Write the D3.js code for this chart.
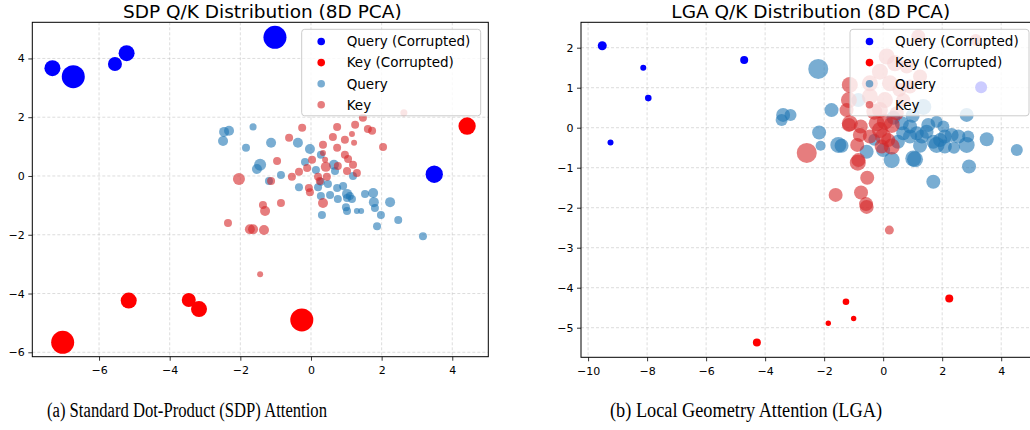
<!DOCTYPE html>
<html><head><meta charset="utf-8">
<script src="https://cdn.jsdelivr.net/npm/d3@7"></script>
<style>body{margin:0;background:#fff;} svg{display:block;}</style>
</head><body>
<svg id="chart" width="1030" height="430"></svg>
<script>
// ---------- DATA: [x, y, magnitude] ----------
const sdpQueryCorrupted = [[-7.32,3.67,2.56],[-6.73,3.38,5.3],[-5.55,3.81,1.96],[-5.22,4.18,2.56],[-1.02,4.72,5.3],[3.49,0.06,3.0]];
const sdpKeyCorrupted = [[-7.03,-5.66,5.3],[-5.16,-4.24,2.56],[-3.46,-4.22,1.96],[-3.17,-4.53,2.56],[-0.26,-4.90,5.3],[4.42,1.70,3.0]];
const sdpQuery = [[-2.46,1.50,1.0],[-2.32,1.54,1.0],[-2.49,1.19,1.0],[-1.64,1.67,0.5],[-1.84,0.96,0.64],[-1.13,1.13,1.0],[-0.37,1.13,1.0],[-1.44,0.38,1.44],[-1.53,0.24,1.0],[-0.85,0.03,0.64],[-1.19,-0.17,0.64],[-0.03,0.92,1.0],[-0.17,0.48,0.64],[0.28,0.72,0.64],[0.14,0.20,0.64],[0.28,-0.20,0.64],[-0.34,-0.38,0.64],[0.48,-0.27,0.64],[0.74,-0.41,0.64],[0.76,-0.78,0.64],[0.65,0.38,1.0],[0.20,-0.38,0.64],[0.28,-0.68,0.64],[0.54,-0.65,0.64],[0.91,-0.34,0.64],[1.02,-0.61,1.0],[1.10,-0.68,0.64],[1.16,-0.78,0.64],[1.02,-0.75,0.64],[1.19,0.00,0.64],[1.53,-0.61,0.64],[1.76,-0.58,1.0],[1.78,-0.89,1.0],[1.81,-1.09,0.64],[2.24,-0.89,1.0],[1.98,-1.33,0.64],[2.47,-1.50,0.64],[1.87,-1.71,0.64],[0.99,-1.06,0.64],[1.02,-1.19,0.64],[1.30,-1.19,0.36],[1.42,-1.19,0.36],[0.31,-1.33,0.64],[3.17,-2.05,0.64],[0.68,0.17,0.64]];
const sdpKey = [[-2.04,-0.10,1.44],[-1.13,-0.17,0.64],[-0.62,1.30,0.64],[-0.25,1.64,0.64],[0.74,1.67,0.64],[1.25,1.74,0.64],[1.47,1.98,0.64],[1.61,1.60,0.64],[1.73,1.54,0.64],[2.04,0.99,0.64],[0.62,1.33,0.64],[0.96,1.23,0.64],[1.16,1.43,0.36],[1.22,1.13,0.36],[0.74,0.96,0.64],[0.34,1.06,0.64],[0.34,0.78,0.36],[0.40,0.55,0.36],[0.96,0.72,0.64],[1.05,0.58,0.64],[1.19,0.38,0.64],[1.30,0.10,0.64],[1.02,0.17,0.64],[-0.96,0.51,0.64],[-0.54,-0.03,0.64],[-0.34,0.14,0.64],[-0.11,0.27,0.64],[0.42,0.31,1.0],[0.20,-0.03,0.64],[0.25,-0.17,0.64],[0.45,-0.03,0.64],[-0.06,-0.41,0.64],[-0.03,-0.55,0.64],[0.34,-0.92,1.0],[-0.85,-0.92,0.64],[-1.36,-0.99,0.64],[-1.30,-1.19,1.0],[-2.35,-1.60,0.64],[-1.73,-1.81,1.0],[-1.64,-1.81,1.0],[-1.33,-1.84,1.0],[-1.44,-3.34,0.36],[2.63,2.15,0.5],[0.03,0.55,0.64],[0.76,0.34,0.64]];

const lgaQueryCorrupted = [[-9.52,2.05,0.81],[-8.13,1.50,0.36],[-7.96,0.74,0.44],[-9.24,-0.37,0.36],[-4.71,1.69,0.64],[3.32,1.01,1.44]];
const lgaKeyCorrupted = [[-4.28,-5.37,0.64],[-1.26,-4.35,0.44],[-1.86,-4.89,0.29],[-1.00,-4.77,0.29],[2.24,-4.27,0.64]];
const lgaQuery = [[-2.20,1.47,4.0],[-3.39,0.32,1.96],[-3.14,0.32,1.44],[-3.44,0.19,1.44],[-1.75,0.44,1.96],[-2.17,-0.12,1.96],[-2.12,-0.45,1.0],[-1.52,-0.43,2.56],[-1.41,-0.45,1.96],[4.53,-0.56,1.44],[2.91,-0.97,1.96],[3.51,-0.29,1.96],[2.83,0.32,1.96],[1.70,-1.35,1.96],[1.02,-0.77,2.56],[2.83,-0.43,2.56],[2.88,-0.22,1.44],[2.55,-0.22,1.96],[2.32,-0.18,1.96],[2.09,-0.22,1.96],[1.93,-0.31,1.96],[1.81,-0.43,2.56],[2.09,-0.47,1.96],[1.70,-0.35,1.96],[1.47,-0.10,1.96],[1.53,0.07,1.96],[1.31,-0.22,1.96],[1.14,-0.14,1.96],[0.91,0.03,1.96],[0.91,-0.22,1.96],[0.68,-0.14,1.96],[0.63,0.11,1.96],[1.81,0.15,1.44],[2.04,0.03,1.44],[1.36,0.52,2.56],[0.29,-0.81,2.56],[0.00,-0.56,1.96],[-0.56,-0.60,1.96],[-0.84,0.69,1.96],[1.08,-0.79,2.56],[0.50,-0.35,1.96],[1.25,-0.45,1.96],[2.40,-0.50,1.44],[0.35,0.25,1.96],[1.00,0.30,1.96],[-0.30,-0.30,1.44]];
const lgaKey = [[-2.59,-0.63,4.0],[-1.61,-1.68,1.96],[-0.86,-0.875,2.56],[-0.54,-1.25,1.96],[-0.75,-1.62,1.96],[-0.58,-1.91,1.96],[-0.56,-1.98,1.96],[0.21,-2.56,0.81],[-1.16,0.07,1.96],[-0.76,0.03,1.96],[-0.88,-0.43,1.96],[-1.13,0.11,2.56],[-1.16,0.69,2.56],[-1.13,1.07,2.56],[-1.24,0.44,1.96],[-0.22,0.11,2.56],[0.06,0.15,2.56],[0.29,0.07,2.56],[-0.11,-0.06,2.56],[-0.45,-0.22,1.96],[0.00,-0.22,2.56],[0.17,-0.31,1.96],[-0.05,-0.47,1.96],[0.29,-0.47,2.56],[-0.79,-0.18,1.96],[-0.84,-0.81,1.96],[1.19,2.28,1.96],[3.14,2.19,1.44],[0.12,1.78,2.56],[-0.11,1.40,2.56],[0.40,1.61,2.56],[0.80,1.53,1.96],[1.25,1.28,1.96],[0.91,1.03,1.96],[0.23,1.11,2.56],[-0.45,1.11,2.56],[-0.45,0.78,2.56],[0.06,0.69,2.56],[0.68,0.69,1.96],[-0.11,0.44,2.56],[0.46,0.36,1.96],[-0.30,0.40,2.56],[0.55,0.95,1.96]];

const sdpXTicks = [-6,-4,-2,0,2,4];
const sdpYTicks = [-6,-4,-2,0,2,4];
const lgaXTicks = [-10,-8,-6,-4,-2,0,2,4];
const lgaYTicks = [-5,-4,-3,-2,-1,0,1,2];
const legendLabels = ["Query (Corrupted)","Key (Corrupted)","Query","Key"];
const titles = ["SDP Q/K Distribution (8D PCA)","LGA Q/K Distribution (8D PCA)"];
const captions = ["(a) Standard Dot-Product (SDP) Attention","(b) Local Geometry Attention (LGA)"];

// ---------- DRAW ----------
const svg = d3.select('#chart');
const rScale = d3.scaleSqrt().domain([0,1]).range([0,5]);
const fmt = d => d < 0 ? '\u2212' + Math.abs(d) : String(d);
const styles = [
  {fill:'#0000ff', op:1},
  {fill:'#ff0000', op:1},
  {fill:'#1f77b4', op:0.6},
  {fill:'#d62728', op:0.6}
];

function panel(cfg){
  const g = svg.append('g');
  const x = d3.scaleLinear().domain(cfg.xDomain).range([cfg.left, cfg.right]);
  const y = d3.scaleLinear().domain(cfg.yDomain).range([cfg.bottom, cfg.top]);
  const clipId = 'clip' + cfg.id;
  svg.append('clipPath').attr('id', clipId).append('rect')
    .attr('x', cfg.left).attr('y', cfg.top).attr('width', cfg.right-cfg.left).attr('height', cfg.bottom-cfg.top);
  const grid = g.append('g').attr('clip-path', `url(#${clipId})`)
    .attr('stroke','#b0b0b0').attr('stroke-opacity',0.55).attr('stroke-width',0.8).attr('stroke-dasharray','3,2');
  grid.selectAll('.vx').data(cfg.xTicks).join('line')
    .attr('x1', d=>x(d)).attr('x2', d=>x(d)).attr('y1', cfg.top).attr('y2', cfg.bottom);
  grid.selectAll('.hy').data(cfg.yTicks).join('line')
    .attr('y1', d=>y(d)).attr('y2', d=>y(d)).attr('x1', cfg.left).attr('x2', cfg.right);

  const pts = g.append('g').attr('clip-path', `url(#${clipId})`);
  cfg.series.forEach((s,i) => {
    pts.append('g').selectAll('circle').data(s).join('circle')
      .attr('cx', d=>x(d[0])).attr('cy', d=>y(d[1])).attr('r', d=>rScale(d[2]))
      .attr('fill', styles[i].fill).attr('fill-opacity', styles[i].op);
  });

  // axes
  const xa = g.append('g').attr('transform', `translate(0,${cfg.bottom})`)
    .call(d3.axisBottom(x).tickValues(cfg.xTicks).tickFormat(fmt).tickSize(4).tickPadding(5.5));
  const ya = g.append('g').attr('transform', `translate(${cfg.left},0)`)
    .call(d3.axisLeft(y).tickValues(cfg.yTicks).tickFormat(fmt).tickSize(4).tickPadding(3.5));
  [xa, ya].forEach(a => {
    a.select('.domain').remove();
    a.selectAll('text').attr('font-family','DejaVu Sans').attr('font-size','11px').attr('fill','#000');
    a.selectAll('line').attr('stroke','#000').attr('stroke-width',0.8);
  });
  g.append('rect').attr('x', cfg.left).attr('y', cfg.top).attr('width', cfg.right-cfg.left).attr('height', cfg.bottom-cfg.top)
    .attr('fill','none').attr('stroke','#000').attr('stroke-width',1);

  g.append('text').attr('x', (cfg.left+cfg.right)/2 + 2).attr('y', 18.3)
    .attr('text-anchor','middle').attr('font-family','DejaVu Sans').attr('font-size','18.5px').attr('fill','#000')
    .text(cfg.title);

  // legend
  const lg = g.append('g');
  lg.append('rect').attr('x', cfg.legX).attr('y', 29.3).attr('width', 179).attr('height', 86.5)
    .attr('rx',3).attr('fill','#fff').attr('fill-opacity',0.8).attr('stroke','#cccccc').attr('stroke-width',1);
  legendLabels.forEach((lab,i) => {
    const yy = 41.5 + i*21.1;
    lg.append('circle').attr('cx', cfg.legX+19.5).attr('cy', yy).attr('r', 3.8)
      .attr('fill', styles[i].fill).attr('fill-opacity', styles[i].op);
    lg.append('text').attr('x', cfg.legX+45).attr('y', yy).attr('dy','0.36em')
      .attr('font-family','DejaVu Sans').attr('font-size','13.5px').attr('fill','#000').text(lab);
  });

  svg.append('text').attr('x', cfg.capX).attr('y', 416.5)
    .attr('font-family','Liberation Serif').attr('font-size','20.5px').attr('fill','#000')
    .attr('textLength', cfg.capW).attr('lengthAdjust','spacingAndGlyphs')
    .text(cfg.caption);
}

panel({id:1, left:32.3, right:488.3, top:22.3, bottom:356.7, xDomain:[-7.89,5.02], yDomain:[-6.15,5.23],
  xTicks:sdpXTicks, yTicks:sdpYTicks, series:[sdpQueryCorrupted, sdpKeyCorrupted, sdpQuery, sdpKey],
  title:titles[0], legX:301.7, caption:captions[0], capX:47, capW:280});
panel({id:2, left:581, right:1036.6, top:22.3, bottom:357.3, xDomain:[-10.24,5.2], yDomain:[-5.74,2.635],
  xTicks:lgaXTicks, yTicks:lgaYTicks, series:[lgaQueryCorrupted, lgaKeyCorrupted, lgaQuery, lgaKey],
  title:titles[1], legX:850, caption:captions[1], capX:610, capW:272});
</script>
</body></html>
